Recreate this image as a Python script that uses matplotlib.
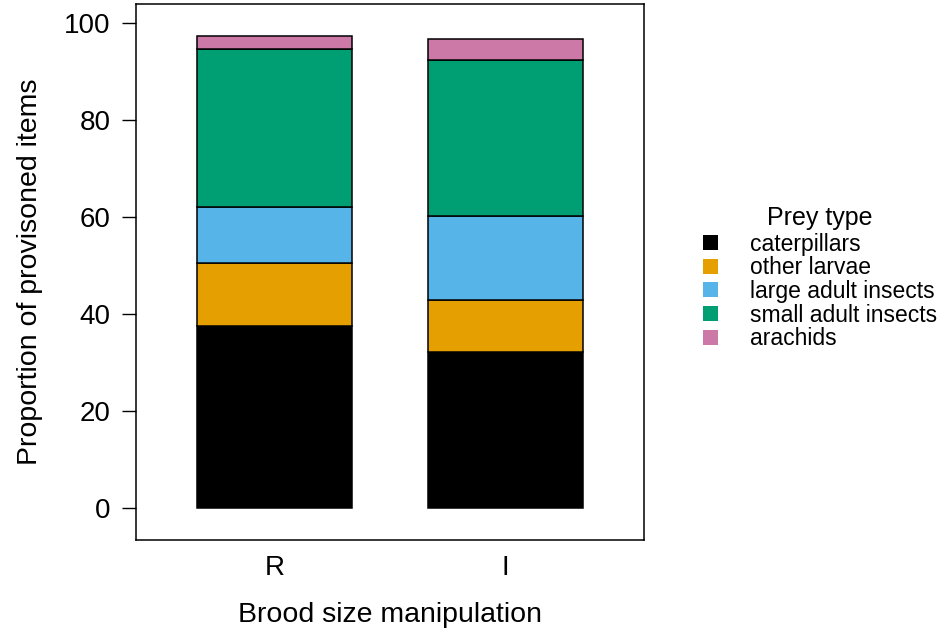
import matplotlib
matplotlib.use("Agg")
import matplotlib.pyplot as plt
from matplotlib.patches import Patch
import numpy as np

plt.rcParams['font.family'] = ['Liberation Sans', 'DejaVu Sans']

groups = ["R", "I"]
prey_types = ["caterpillars", "other larvae", "large adult insects",
              "small adult insects", "arachids"]
colors = ["#000000", "#E69F00", "#56B4E9", "#009E73", "#CC79A7"]
caterpillars = [37.6, 32.2]
other_larvae = [13.0, 10.7]
large_adult = [11.5, 17.4]
small_adult = [32.5, 32.1]
arachids = [2.8, 4.4]
series = [caterpillars, other_larvae, large_adult, small_adult, arachids]
yticks = [0, 20, 40, 60, 80, 100]

fig = plt.figure(figsize=(9.43, 6.35), dpi=100)
ax = fig.add_axes([135.7/943, 95/635, 508/943, 536/635])

x = np.array([0.0, 1.49])
bottom = np.zeros(2)
for vals, c in zip(series, colors):
    ax.bar(x, vals, width=1.0, bottom=bottom, color=c, edgecolor="black",
           linewidth=1.1)
    bottom += np.array(vals)

ax.set_xlim(-0.5-0.395, 1.49+0.5+0.39)
ax.set_ylim(-6.54, 103.98)
ax.set_xticks(x)
ax.set_xticklabels(groups, fontsize=20)
ax.tick_params(axis='x', length=0, pad=11)
ax.set_yticks(yticks)
ax.set_yticklabels([str(t) for t in yticks], fontsize=20)
ax.tick_params(axis='y', length=10, width=1, pad=8)
for s in ax.spines.values():
    s.set_linewidth(1.1)
ax.set_xlabel("Brood size manipulation", fontsize=20.5, labelpad=15)
ax.set_ylabel("Proportion of provisoned items", fontsize=20.5, labelpad=15)

handles = [Patch(facecolor=c, edgecolor='none') for c in colors]
leg = fig.legend(handles, prey_types, loc='center left',
                 bbox_to_anchor=(703/943, 1-278/635), frameon=False,
                 fontsize=16.5, title="Prey type", title_fontsize=18,
                 handlelength=0.65, handleheight=0.65, handletextpad=1.4,
                 labelspacing=0.03, borderpad=0, borderaxespad=0)
leg._legend_box.sep = 2

fig.savefig("out.png", dpi=100)
